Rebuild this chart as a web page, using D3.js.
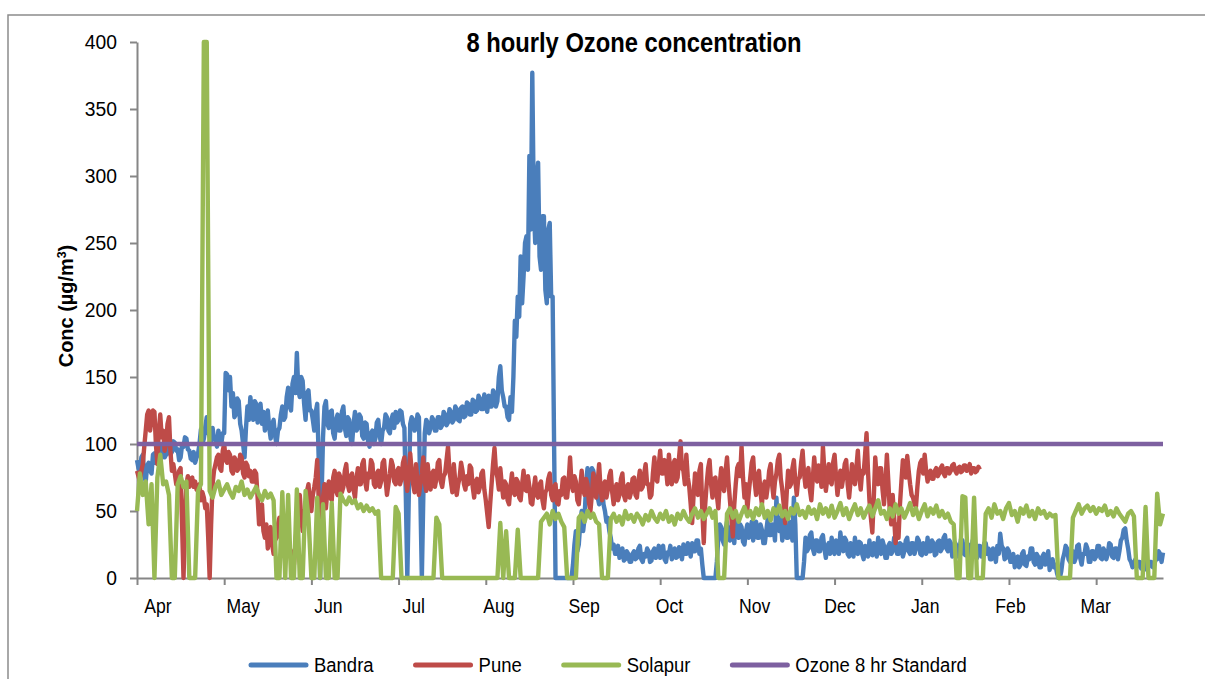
<!DOCTYPE html>
<html>
<head>
<meta charset="utf-8">
<script src="https://cdn.jsdelivr.net/npm/d3@7"></script>
<style>
  body { margin: 0; background: #fff; }
  svg text { font-family: 'Liberation Sans Narrow', 'Arial Narrow', 'Liberation Sans', Arial, sans-serif; fill: #000; }
</style>
</head>
<body>
<svg id="chart" width="1205" height="679"></svg>
<script>
// Bandra and Pune: two readings per day (half-day steps) from 1 April
const bandra = [
  88, 82, 80, 90, 92, 76, 72, 84, 86, 80, 78, 92, 93, 86, 95, 90, 88, 98, 97, 90,
  92, 100, 99, 92, 94, 102, 101, 95, 96, 88, 90, 99, 98, 105, 104, 96, 95, 89, 88, 94,
  86, 90, 93, 100, 111, 100, 104, 113, 120, 108, 106, 100, 112, 104, 104, 98, 110, 103, 100, 108,
  108, 153, 152, 140, 150, 128, 138, 120, 122, 134, 132, 115, 110, 100, 90, 112, 128, 118, 135, 125,
  118, 132, 130, 116, 122, 130, 115, 124, 110, 118, 125, 112, 104, 115, 118, 106, 100, 110, 112, 122,
  128, 118, 120, 135, 142, 128, 125, 145, 150, 138, 168, 140, 135, 150, 147, 130, 118, 138, 140, 125,
  125, 118, 110, 124, 130, 90, 0, 60, 105, 128, 132, 115, 112, 124, 125, 108, 104, 118, 122, 110,
  110, 124, 128, 112, 106, 120, 118, 104, 100, 115, 124, 110, 112, 122, 120, 106, 104, 116, 115, 102,
  98, 108, 110, 100, 104, 116, 118, 106, 100, 110, 112, 122, 120, 110, 108, 118, 122, 112, 124, 116,
  118, 125, 124, 115, 112, 60, 0, 60, 115, 120, 118, 110, 112, 122, 120, 60, 0, 60, 108, 118,
  116, 108, 112, 120, 118, 110, 110, 120, 120, 112, 114, 124, 122, 114, 116, 126, 124, 116, 118, 128,
  126, 118, 117, 127, 128, 120, 121, 131, 130, 122, 122, 133, 132, 124, 125, 136, 134, 126, 126, 137,
  130, 124, 136, 128, 128, 140, 138, 128, 132, 150, 158, 140, 135, 128, 128, 120, 118, 135, 124, 150,
  192, 180, 210, 195, 240, 205, 225, 250, 255, 230, 315, 260, 377, 280, 250, 300, 310, 240, 230, 270,
  270, 215, 205, 260, 265, 210, 210, 100, 0, 0, 0, 0, 0, 0, 0, 0, 0, 0, 0, 0,
  10, 25, 35, 20, 25, 40, 50, 35, 45, 70, 82, 65, 70, 82, 80, 72, 75, 60, 55, 70,
  68, 55, 50, 42, 45, 35, 30, 22, 25, 18, 18, 24, 15, 20, 22, 13, 14, 20, 18, 12,
  12, 18, 20, 14, 15, 22, 24, 14, 12, 18, 16, 22, 20, 12, 13, 20, 22, 15, 18, 24,
  15, 21, 24, 14, 12, 19, 18, 24, 14, 20, 22, 15, 16, 23, 20, 14, 25, 18, 18, 26,
  22, 16, 26, 20, 20, 28, 28, 18, 22, 10, 0, 0, 0, 0, 0, 0, 0, 0, 0, 12,
  30, 40, 38, 28, 25, 36, 42, 30, 28, 38, 35, 26, 45, 34, 30, 40, 38, 27, 25, 35,
  40, 30, 32, 42, 28, 36, 42, 30, 30, 40, 36, 26, 26, 35, 44, 32, 32, 40, 38, 28,
  60, 38, 35, 45, 28, 38, 40, 30, 30, 42, 36, 28, 60, 40, 0, 0, 0, 0, 0, 12,
  30, 20, 22, 32, 34, 22, 18, 28, 28, 20, 20, 30, 32, 22, 15, 24, 26, 18, 30, 22,
  18, 28, 25, 18, 34, 24, 20, 30, 28, 18, 16, 26, 24, 16, 30, 22, 18, 27, 26, 18,
  14, 24, 22, 16, 28, 18, 17, 26, 25, 16, 30, 20, 18, 28, 24, 15, 15, 24, 26, 18,
  20, 30, 28, 18, 18, 26, 25, 16, 20, 28, 30, 20, 18, 26, 26, 18, 22, 30, 28, 18,
  17, 26, 25, 18, 30, 20, 20, 28, 26, 17, 18, 27, 28, 20, 22, 30, 32, 22, 20, 28,
  26, 16, 18, 26, 24, 16, 21, 29, 28, 18, 17, 26, 25, 16, 20, 28, 28, 18, 15, 24,
  24, 16, 18, 26, 26, 18, 22, 14, 14, 22, 20, 12, 24, 18, 33, 24, 22, 14, 15, 22,
  20, 12, 12, 18, 8, 15, 16, 8, 10, 18, 20, 10, 9, 16, 14, 22, 22, 12, 10, 18,
  16, 8, 8, 16, 18, 10, 12, 20, 6, 12, 14, 8, 10, 4, 0, 0, 5, 14, 18, 24,
  22, 14, 12, 20, 20, 12, 15, 24, 25, 15, 10, 18, 18, 25, 22, 12, 12, 20, 20, 14,
  16, 24, 24, 15, 14, 22, 20, 14, 18, 26, 25, 16, 15, 22, 22, 14, 20, 28, 30, 36,
  37, 28, 22, 14, 12, 8, 10, 14, 8, 12, 12, 7, 9, 13, 10, 6, 8, 12, 12, 8,
  10, 14, 14, 20, 18, 12, 19
]

const pune = [
  80, 76, 72, 80, 85, 98, 110, 122, 125, 110, 118, 125, 124, 100, 85, 110, 122, 105, 110, 95,
  100, 115, 120, 95, 80, 85, 78, 70, 72, 80, 82, 40, 0, 40, 70, 76, 68, 74, 75, 68,
  72, 66, 65, 70, 58, 64, 60, 52, 55, 30, 0, 40, 70, 80, 85, 90, 92, 82, 80, 95,
  100, 88, 86, 94, 92, 80, 78, 90, 88, 80, 82, 92, 90, 78, 75, 86, 84, 76, 80, 72,
  72, 80, 78, 60, 40, 50, 55, 35, 30, 40, 22, 30, 38, 25, 18, 28, 30, 40, 45, 30,
  28, 20, 15, 30, 35, 22, 20, 12, 10, 25, 40, 55, 62, 45, 35, 50, 45, 65, 70, 55,
  50, 62, 68, 75, 88, 60, 45, 55, 60, 70, 52, 65, 72, 60, 58, 75, 80, 65, 62, 78,
  75, 64, 68, 80, 85, 70, 65, 76, 78, 66, 60, 74, 82, 70, 70, 85, 88, 72, 66, 78,
  75, 88, 85, 70, 68, 78, 80, 68, 72, 86, 88, 74, 62, 70, 78, 88, 84, 72, 70, 80,
  82, 70, 74, 86, 90, 72, 65, 78, 93, 80, 70, 64, 85, 72, 62, 70, 78, 90, 72, 65,
  85, 74, 66, 78, 80, 68, 74, 86, 88, 72, 68, 76, 78, 88, 98, 80, 72, 64, 85, 72,
  62, 70, 75, 86, 80, 70, 66, 76, 70, 84, 82, 68, 60, 72, 74, 64, 68, 78, 80, 66,
  58, 48, 38, 55, 70, 85, 97, 80, 75, 66, 82, 70, 60, 72, 70, 58, 55, 68, 78, 64,
  62, 74, 72, 60, 58, 70, 80, 66, 65, 76, 68, 56, 55, 66, 75, 62, 60, 70, 72, 58,
  52, 64, 66, 74, 78, 62, 58, 68, 70, 56, 55, 65, 62, 74, 75, 60, 60, 72, 90, 70,
  65, 76, 72, 58, 55, 68, 80, 66, 62, 74, 70, 56, 50, 62, 78, 64, 60, 72, 85, 66,
  58, 70, 72, 60, 66, 76, 80, 64, 55, 66, 70, 58, 62, 74, 78, 62, 58, 68, 70, 60,
  64, 74, 75, 62, 60, 72, 80, 66, 68, 78, 85, 70, 70, 60, 62, 78, 90, 74, 72, 84,
  95, 78, 78, 88, 82, 70, 92, 80, 70, 85, 88, 72, 75, 90, 102, 82, 80, 70, 92, 75,
  68, 55, 41, 62, 78, 66, 62, 80, 85, 50, 26, 55, 70, 82, 88, 70, 60, 74, 75, 62,
  52, 70, 82, 68, 65, 80, 90, 72, 58, 45, 31, 55, 70, 82, 85, 76, 98, 75, 60, 70,
  51, 64, 75, 86, 90, 72, 62, 76, 80, 64, 55, 68, 72, 60, 68, 80, 85, 70, 60, 72,
  78, 88, 92, 74, 66, 55, 41, 62, 80, 68, 70, 82, 88, 72, 62, 74, 75, 86, 95, 78,
  68, 78, 82, 66, 58, 74, 90, 76, 72, 84, 80, 68, 98, 80, 65, 74, 85, 72, 70, 86,
  92, 76, 62, 72, 80, 68, 75, 85, 88, 70, 60, 72, 85, 74, 70, 82, 95, 76, 66, 80,
  78, 92, 108, 80, 58, 45, 34, 60, 90, 75, 70, 82, 82, 66, 55, 70, 92, 72, 50, 40,
  62, 45, 26, 40, 30, 55, 72, 88, 85, 75, 91, 80, 70, 62, 60, 55, 53, 68, 80, 86,
  88, 78, 92, 80, 72, 78, 80, 74, 74, 80, 82, 76, 78, 82, 84, 78, 76, 82, 82, 78,
  80, 84, 85, 80, 78, 82, 83, 79, 80, 84, 84, 80, 81, 85, 78, 82, 82, 79, 80, 83,
  81
]

// Solapur: one reading per day from 1 April
const solapur = [
  50, 78, 62, 72, 40, 70, 0, 75, 92, 70,
  72, 62, 0, 0, 70, 76, 68, 72, 0, 0,
  0, 65, 70, 400, 400, 65, 60, 68, 72, 62,
  66, 70, 64, 60, 68, 65, 72, 62, 66, 60,
  64, 68, 62, 58, 65, 60, 63, 58, 0, 0,
  64, 0, 62, 0, 0, 66, 0, 0, 65, 45,
  0, 0, 60, 0, 55, 0, 0, 56, 0, 0,
  63, 58, 55, 60, 56, 58, 52, 55, 50, 54,
  50, 52, 48, 50, 0, 0, 0, 0, 0, 53,
  48, 0, 0, 0, 0, 0, 0, 0, 0, 0,
  0, 0, 0, 45, 40, 0, 0, 0, 0, 0,
  0, 0, 0, 0, 0, 0, 0, 0, 0, 0,
  0, 0, 0, 0, 0, 41, 0, 35, 0, 0,
  0, 36, 0, 0, 0, 0, 0, 0, 0, 42,
  45, 48, 40, 50, 44, 48, 42, 38, 0, 0,
  0, 0, 45, 48, 42, 50, 45, 48, 42, 40,
  0, 0, 0, 44, 48, 42, 46, 40, 50, 44,
  47, 42, 48, 45, 40, 47, 43, 50, 45, 42,
  48, 44, 50, 42, 46, 40, 48, 44, 50, 45,
  42, 48, 52, 45, 50, 44, 48, 52, 45, 50,
  0, 0, 0, 48, 52, 45, 50, 42, 48, 53,
  46, 50, 44, 52, 47, 55, 45, 50, 43, 52,
  48, 54, 46, 50, 44, 52, 48, 55, 47, 50,
  45, 53, 48, 51, 44, 55, 48, 52, 46, 54,
  45, 50, 56, 47, 52, 44, 50, 55, 47, 52,
  45, 50, 54, 46, 52, 58, 48, 50, 44, 52,
  46, 55, 48, 52, 45, 50, 56, 47, 52, 44,
  50, 55, 46, 52, 48, 54, 46, 50, 45, 48,
  42, 40, 0, 0, 61, 60, 0, 0, 60, 0,
  0, 0, 48, 52, 45, 55, 48, 50, 44, 52,
  56, 47, 50, 42, 52, 48, 54, 46, 50, 44,
  52, 48, 50, 45, 48, 46, 47, 0, 0, 0,
  0, 0, 45, 50, 55, 48, 52, 54, 50, 53,
  48, 52, 50, 54, 47, 50, 46, 52, 48, 45,
  42, 48, 50, 46, 0, 0, 0, 53, 0, 0,
  0, 63, 40, 48
]

const standard = [100, 100]
const totalDays = 353

const months = ['Apr', 'May', 'Jun', 'Jul', 'Aug', 'Sep', 'Oct', 'Nov', 'Dec', 'Jan', 'Feb', 'Mar']
const yTicks = [0, 50, 100, 150, 200, 250, 300, 350, 400]
const tickEvery = 30          // days between tick marks
const labelEvery = 88 / 3     // days between month labels
const labelOffset = 7.2       // day of first label

const seriesNames = ['Bandra', 'Pune', 'Solapur', 'Ozone 8 hr Standard']
const colors = ['#4a7ebb', '#be4b48', '#98b954', '#7d60a0']

// no narrow font installed, so squeeze text horizontally
const narrow = 0.88

let svg = d3.select('#chart')

let margin = { top: 42, left: 137, right: 42, bottom: 101 }
let width = 1205 - margin.left - margin.right
let height = 679 - margin.top - margin.bottom

// outer chart frame
svg.append('rect')
  .attr('x', 8).attr('y', 15)
  .attr('width', 1210).attr('height', 700)
  .attr('fill', 'none')
  .attr('stroke', '#8c8c8c')
  .attr('stroke-width', 1.5)

let g = svg.append('g')
  .attr('transform', 'translate(' + margin.left + ',' + margin.top + ')')

let x = d3.scaleLinear().domain([0, totalDays]).range([0, width])
let y = d3.scaleLinear().domain([0, 400]).range([height, 0])

// y axis
let yAxis = g.append('g')
  .call(d3.axisLeft(y).tickValues(yTicks).tickSize(7).tickSizeOuter(0).tickFormat(''))
yAxis.select('.domain').attr('stroke', '#868686').attr('stroke-width', 2)
yAxis.selectAll('.tick line').attr('stroke', '#868686').attr('stroke-width', 2)

g.selectAll('.y-label')
  .data(yTicks)
  .enter()
  .append('text')
  .attr('class', 'y-label')
  .attr('transform', d => 'translate(-20,' + (y(d) + 7) + ') scale(0.92,1)')
  .attr('text-anchor', 'end')
  .style('font-size', '21px')
  .text(d => d)

// x axis (tick marks only, month labels placed separately)
let xTickValues = d3.range(0, totalDays, tickEvery)
let xAxis = g.append('g')
  .attr('transform', 'translate(0,' + height + ')')
  .call(d3.axisBottom(x).tickValues(xTickValues).tickSize(7).tickSizeOuter(0).tickFormat(''))
xAxis.select('.domain').attr('stroke', '#868686').attr('stroke-width', 2)
xAxis.selectAll('.tick line').attr('stroke', '#868686').attr('stroke-width', 2)

g.selectAll('.month-label')
  .data(months)
  .enter()
  .append('text')
  .attr('class', 'month-label')
  .attr('transform', (d, i) => 'translate(' + x(labelOffset + i * labelEvery) + ',' + (height + 35) + ') scale(' + narrow + ',1)')
  .attr('text-anchor', 'middle')
  .style('font-size', '20px')
  .text(d => d)

// lines, each with its own step in days
let allSeries = [
  { values: bandra, step: 0.5 },
  { values: pune, step: 0.5 },
  { values: solapur, step: 1 },
  { values: standard, step: totalDays }
]

g.selectAll('.series')
  .data(allSeries)
  .enter()
  .append('path')
  .attr('class', 'series')
  .attr('d', s => d3.line()
    .x((d, i) => x(i * s.step))
    .y(d => y(d))(s.values))
  .attr('fill', 'none')
  .attr('stroke', (d, i) => colors[i])
  .attr('stroke-width', 4.4)
  .attr('stroke-linejoin', 'round')
  .attr('stroke-linecap', 'butt')

// title
svg.append('text')
  .attr('transform', 'translate(634,52) scale(' + narrow + ',1)')
  .attr('text-anchor', 'middle')
  .style('font-size', '27px')
  .style('font-weight', 'bold')
  .text('8 hourly Ozone concentration')

// y axis title
let yTitle = svg.append('text')
  .attr('transform', 'translate(73,306) rotate(-90) scale(0.95,1)')
  .attr('text-anchor', 'middle')
  .style('font-size', '21px')
  .style('font-weight', 'bold')
yTitle.append('tspan').text('Conc (µg/m')
yTitle.append('tspan').attr('dy', -7).style('font-size', '13px').text('3')
yTitle.append('tspan').attr('dy', 7).text(')')

// legend
let legend = svg.append('g').attr('transform', 'translate(251,665)')
let lx = 0
seriesNames.forEach((name, i) => {
  let item = legend.append('g').attr('transform', 'translate(' + lx + ',0)')
  item.append('line')
    .attr('x1', 0).attr('x2', 55)
    .attr('y1', 0).attr('y2', 0)
    .attr('stroke', colors[i])
    .attr('stroke-width', 5)
    .attr('stroke-linecap', 'round')
  let t = item.append('text')
    .attr('transform', 'translate(63,7) scale(' + narrow + ',1)')
    .style('font-size', '21px')
    .text(name)
  lx += 63 + t.node().getComputedTextLength() * narrow + 42
})
</script>
</body>
</html>
